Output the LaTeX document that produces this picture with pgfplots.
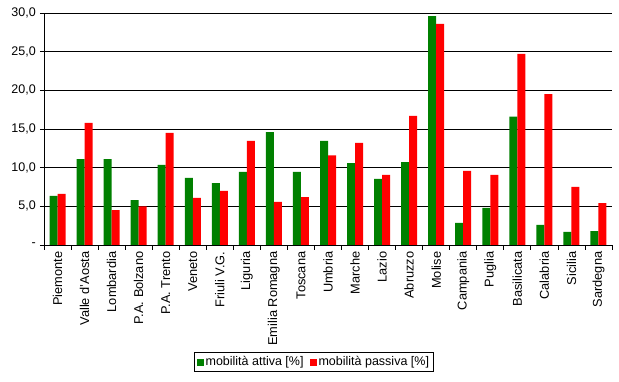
\documentclass[border=0pt]{standalone}
\usepackage{pgfplots}
\pgfplotsset{compat=1.18}
\usepackage{fontspec}
\setmainfont{Liberation Sans}
\definecolor{mgreen}{RGB}{0,128,0}
\definecolor{mred}{RGB}{255,0,0}
\begin{document}
\fontsize{12}{14}\selectfont
\begin{tikzpicture}[x=1pt,y=1pt]
\path[use as bounding box] (0,0) rectangle (619,382);
\begin{axis}[
  at={(44pt,137pt)}, anchor=south west,
  scale only axis, width=568pt, height=232pt,
  ybar=0pt, bar width=8pt,
  xmin=-0.5, xmax=20.5, ymin=0, ymax=30,
  axis x line*=bottom, axis y line*=left,
  axis line style={black, line width=0.8pt},
  xtick={0,...,20},
  xticklabels={Piemonte,Valle d'Aosta,Lombardia,P.A. Bolzano,P.A. Trento,Veneto,Friuli V.G.,Liguria,Emilia Romagna,Toscana,Umbria,Marche,Lazio,Abruzzo,Molise,Campania,Puglia,Basilicata,Calabria,Sicilia,Sardegna},
  major x tick style={draw=none},
  minor xtick={-0.5,0.5,...,20.5},
  minor x tick style={black, line width=0.8pt},
  xticklabel style={rotate=90, anchor=east, font=\fontsize{12.8}{14}\selectfont, inner sep=2.5pt},
  ytick={0,5,10,15,20,25,30},
  yticklabels={-,{5,0},{10,0},{15,0},{20,0},{25,0},{30,0}},
  yticklabel style={font=\fontsize{12.5}{14}\selectfont},
  ymajorgrids, grid style={black, line width=0.8pt},
  tick align=outside, major tick length=4pt, minor tick length=5pt,
  y tick style={black, line width=0.8pt},
  /pgf/number format/assume math mode=true,
  legend columns=2,
  legend style={at={(0.475,-0.505)}, anchor=center, draw=black, line width=0.6pt,
    font=\fontsize{12.5}{14}\selectfont, inner sep=2pt,
    /tikz/every even column/.append style={column sep=4pt}},
  legend image code/.code={\fill[#1] (0pt,-3.5pt) rectangle (7pt,3.5pt);},
]
\addplot[fill=mgreen, draw=none] coordinates {
(0,6.34) (1,11.1) (2,11.1) (3,5.8) (4,10.35) (5,8.67) (6,8.0) (7,9.44) (8,14.6) (9,9.44)
(10,13.45) (11,10.6) (12,8.54) (13,10.7) (14,29.6) (15,2.85) (16,4.8) (17,16.6) (18,2.6) (19,1.7) (20,1.8)};
\addplot[fill=mred, draw=none] coordinates {
(0,6.6) (1,15.8) (2,4.5) (3,5.0) (4,14.5) (5,6.1) (6,7.0) (7,13.45) (8,5.56) (9,6.2)
(10,11.6) (11,13.2) (12,9.06) (13,16.7) (14,28.6) (15,9.57) (16,9.06) (17,24.7) (18,19.5) (19,7.5) (20,5.4)};
\legend{mobilità attiva [\%],mobilità passiva [\%]}
\end{axis}
\end{tikzpicture}
\end{document}
